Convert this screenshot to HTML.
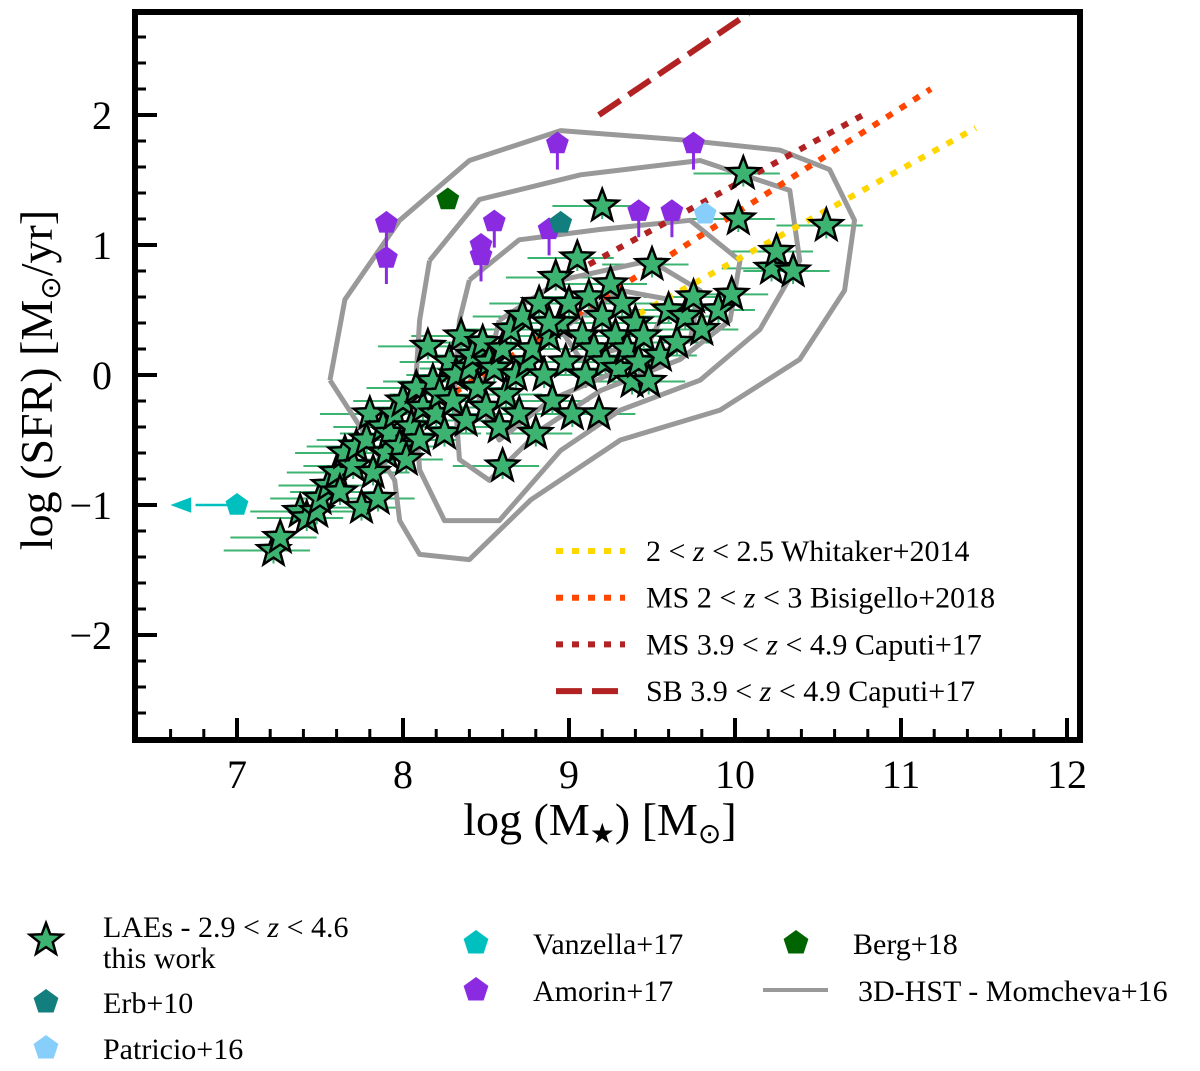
<!DOCTYPE html>
<html><head><meta charset="utf-8"><style>
body{margin:0;background:#fff;}
svg text{font-family:"Liberation Serif",serif;fill:#000;}
</style></head><body>
<svg id="chart" width="1200" height="1066" viewBox="0 0 1200 1066" xmlns="http://www.w3.org/2000/svg">
<g id="plot"></g>
<g id="axes"></g>
<g id="legend"></g>
</svg>
<script>
const xTicks=[7,8,9,10,11,12];
const yTicks=[-2,-1,0,1,2];
const yTickLabels=["\u22122","\u22121","0","1","2"];
// LAE stars
const laeX=[7.22,7.26,7.38,7.42,7.48,7.5,7.55,7.6,7.62,7.65,7.7,7.72,7.75,7.78,7.8,7.82,7.85,7.88,7.9,7.92,7.95,7.98,8.0,8.02,8.05,8.08,8.1,8.12,8.15,8.18,8.2,8.22,8.25,8.28,8.3,8.32,8.35,8.38,8.4,8.42,8.45,8.48,8.5,8.52,8.55,8.58,8.6,8.62,8.65,8.68,8.7,8.72,8.75,8.78,8.8,8.82,8.85,8.88,8.9,8.92,8.95,8.98,9.0,9.02,9.05,9.08,9.1,9.12,9.15,9.18,9.2,9.22,9.25,9.28,9.3,9.32,9.35,9.38,9.4,9.42,9.45,9.5,9.55,9.6,9.65,9.7,9.75,9.8,9.9,9.98,10.02,10.05,10.22,10.25,10.35,10.55,8.6,8.88,9.2,9.48];
const laeY=[-1.35,-1.25,-1.05,-1.1,-1.05,-0.95,-0.85,-0.75,-0.9,-0.6,-0.7,-0.55,-1.02,-0.5,-0.3,-0.75,-0.95,-0.4,-0.6,-0.45,-0.3,-0.55,-0.2,-0.65,-0.4,-0.1,-0.5,-0.25,0.22,-0.05,-0.3,-0.15,-0.45,0.1,-0.2,0.0,0.3,-0.35,0.05,0.15,-0.1,0.25,-0.25,0.1,0.05,-0.4,0.2,-0.15,0.35,0.0,-0.3,0.45,0.1,0.2,-0.45,0.55,0.0,0.3,-0.2,0.75,0.4,0.1,0.55,-0.3,0.9,0.3,0.0,0.6,0.2,-0.3,0.45,0.1,0.7,0.3,0.05,0.55,0.2,-0.05,0.4,0.1,0.3,0.85,0.15,0.5,0.25,0.45,0.6,0.35,0.5,0.62,1.2,1.55,0.82,0.95,0.8,1.15,-0.7,0.4,1.3,-0.05];
// Other samples
const amorinX=[7.9,7.9,8.47,8.47,8.55,8.93,8.88,9.42,9.62,9.75];
const amorinY=[1.17,0.9,1.0,0.92,1.18,1.78,1.12,1.26,1.26,1.78];
const erbX=[8.95],erbY=[1.17];
const bergX=[8.27],bergY=[1.35];
const patricioX=[9.82],patricioY=[1.24];
const vanzellaX=[7.0],vanzellaY=[-1.0];
// Contours (3D-HST)
const contoursX=[
[7.56,7.65,7.98,8.40,8.95,9.67,10.27,10.57,10.72,10.66,10.39,9.91,9.31,8.77,8.40,8.10,7.98,7.95,7.56],
[8.16,8.46,9.07,9.79,10.33,10.39,10.15,9.79,9.31,8.95,8.58,8.25,8.10,8.07,8.10,8.16],
[8.40,8.70,9.19,9.73,10.03,9.97,9.67,9.19,8.83,8.52,8.34,8.31,8.34,8.40],
[8.58,8.95,9.49,9.79,9.73,9.31,8.89,8.58,8.46,8.58],
[8.95,9.31,9.61,9.49,9.07,8.95]];
const contoursY=[
[-0.04,0.58,1.19,1.65,1.88,1.81,1.73,1.58,1.19,0.65,0.12,-0.27,-0.5,-0.96,-1.42,-1.38,-1.12,-0.81,-0.04],
[0.88,1.35,1.54,1.65,1.42,0.88,0.35,-0.04,-0.27,-0.58,-1.12,-1.12,-0.73,-0.19,0.42,0.88],
[0.73,1.04,1.12,1.19,0.88,0.42,0.12,-0.12,-0.42,-0.81,-0.65,-0.12,0.42,0.73],
[0.42,0.73,0.88,0.65,0.27,0.04,-0.19,-0.5,-0.19,0.42],
[0.35,0.65,0.58,0.27,0.12,0.35]];
// Relations
const relX=[[9.25,11.45],[8.23,11.18],[9.12,10.8],[9.18,10.08]];
const relY=[[0.35,1.9],[-0.2,2.2],[0.85,2.02],[2.0,2.78]];
const relNames=["2 < z < 2.5 Whitaker+2014","MS 2 < z < 3 Bisigello+2018","MS 3.9 < z < 4.9 Caputi+17","SB 3.9 < z < 4.9 Caputi+17"];

const X0=135,X1=1080,Y0=12,Y1=740;
const sx=v=>237+(v-7)*166;
const sy=v=>375-v*130;
const NS="http://www.w3.org/2000/svg";
function mk(tag,attrs,parent){const e=document.createElementNS(NS,tag);for(const k in attrs)e.setAttribute(k,attrs[k]);parent.appendChild(e);return e;}
const plot=document.getElementById('plot'),axes=document.getElementById('axes'),legend=document.getElementById('legend');
const cp=mk('clipPath',{id:'clip'},plot);
mk('rect',{x:X0,y:Y0,width:X1-X0,height:Y1-Y0},cp);
const g=mk('g',{'clip-path':'url(#clip)'},plot);

function starPath(cx,cy,r){let d='';for(let i=0;i<10;i++){const rr=i%2?r*0.42:r;const a=-Math.PI/2+i*Math.PI/5;d+=(i?'L':'M')+(cx+rr*Math.cos(a)).toFixed(1)+','+(cy+rr*Math.sin(a)).toFixed(1);}return d+'Z';}
function pentPath(cx,cy,r){let d='';for(let i=0;i<5;i++){const a=-Math.PI/2+i*2*Math.PI/5;d+=(i?'L':'M')+(cx+r*Math.cos(a)).toFixed(1)+','+(cy+r*Math.sin(a)).toFixed(1);}return d+'Z';}

laeX.forEach((x,i)=>{
  const e=mk('path',{d:`M${sx(x-0.3)},${sy(laeY[i])}H${sx(x+0.22)}M${sx(x)},${sy(laeY[i]-0.1)}V${sy(laeY[i]+0.1)}`,stroke:'#3cb371','stroke-width':2,fill:'none'},g);
  
  
});
contoursX.forEach((cx,j)=>{
  const d=cx.map((x,i)=>(i?'L':'M')+sx(x)+','+sy(contoursY[j][i])).join('');
  const p=mk('path',{d,stroke:'#999','stroke-width':5,fill:'none','stroke-linejoin':'round'},g);
  
  
});
const relStyles=[{s:'#ffd700',da:'7 9'},{s:'#ff4500',da:'7 9'},{s:'#b22222',da:'7 9'},{s:'#b22222',da:'26 10'}];
relX.forEach((rx,j)=>{
  const l=mk('line',{x1:sx(rx[0]),y1:sy(relY[j][0]),x2:sx(rx[1]),y2:sy(relY[j][1]),stroke:relStyles[j].s,'stroke-width':6,'stroke-dasharray':relStyles[j].da},g);
  
  
});
laeX.forEach((x,i)=>{
  const s=mk('path',{d:starPath(sx(x),sy(laeY[i]),17),fill:'#3cb371',stroke:'#000','stroke-width':2.5,'stroke-linejoin':'miter'},g);
  
  
});
function pents(xs,ys,col,name,errs){xs.forEach((x,i)=>{
  if(errs){const el=mk('line',{x1:sx(x),x2:sx(x),y1:sy(ys[i]),y2:sy(ys[i]-0.2),stroke:col,'stroke-width':3},g);
  
  }
  const p=mk('path',{d:pentPath(sx(x),sy(ys[i]),12),fill:col},g);
  
  
});}
pents(amorinX,amorinY,'#8a2be2','amorin-point',true);
pents(erbX,erbY,'#137e7e','erb-point',false);
pents(bergX,bergY,'#006400','berg-point',false);
pents(patricioX,patricioY,'#87cefa','patricio-point',false);
vanzellaX.forEach((x,i)=>{
  const a=mk('path',{d:`M${sx(x)},${sy(vanzellaY[i])}H${sx(6.75)}M${sx(6.62)},${sy(vanzellaY[i])}l16,-6v12z`,stroke:'#00bfbf','stroke-width':2.5,fill:'#00bfbf'},g);
  
  
});
pents(vanzellaX,vanzellaY,'#00bfbf','vanzella-point',false);

const fr=mk('rect',{x:X0,y:Y0,width:X1-X0,height:Y1-Y0,fill:'none',stroke:'#000','stroke-width':6},axes);


for(let v=6.6;v<=12.01;v+=0.2){const big=Math.abs(v-Math.round(v))<0.01;mk('line',{x1:sx(v),x2:sx(v),y1:Y1,y2:Y1-(big?22:11),stroke:'#000','stroke-width':big?4:3},axes);}
for(let v=-2.6;v<=2.61;v+=0.2){const big=Math.abs(v-Math.round(v))<0.01;mk('line',{x1:X0,x2:X0+(big?22:11),y1:sy(v),y2:sy(v),stroke:'#000','stroke-width':big?4:3},axes);}
xTicks.forEach(v=>{const t=mk('text',{x:sx(v),y:788,'font-size':40,'text-anchor':'middle'},axes);t.textContent=v;
  });
yTicks.forEach((v,i)=>{const t=mk('text',{x:112,y:sy(v)+14,'font-size':40,'text-anchor':'end'},axes);t.textContent=yTickLabels[i];
  });
const xt=mk('text',{x:600,y:835,'font-size':46,'text-anchor':'middle'},axes);
xt.innerHTML='log (M<tspan font-size="28" dy="8">\u2605</tspan><tspan dy="-8">) [M</tspan><tspan font-size="28" dy="8">\u2299</tspan><tspan dy="-8">]</tspan>';

const yt=mk('text',{x:0,y:0,'font-size':46,'text-anchor':'middle',transform:'translate(52,380) rotate(-90)'},axes);
yt.innerHTML='log (SFR) [M<tspan font-size="28" dy="8">\u2299</tspan><tspan dy="-8">/yr]</tspan>';


relNames.forEach((n,j)=>{const y=551+j*46.7;
  const l=mk('line',{x1:556,x2:625,y1:y,y2:y,stroke:relStyles[j].s,'stroke-width':6,'stroke-dasharray':relStyles[j].da},legend);
  
  const t=mk('text',{x:646,y:y+10,'font-size':30},legend);
  t.innerHTML=n.replace(/ z /,' <tspan font-style="italic">z</tspan> ');
  });

function ltext(x,y,s){const t=mk('text',{x,y,'font-size':30},legend);t.innerHTML=s;}
const ls=mk('path',{d:starPath(46,940,17),fill:'#3cb371',stroke:'#000','stroke-width':2.5},legend);

ltext(103,937,'LAEs - 2.9 &lt; <tspan font-style="italic">z</tspan> &lt; 4.6');ltext(103,968,'this work');
[[46,1002,'#137e7e','Erb+10'],[46,1048,'#87cefa','Patricio+16'],[476,943,'#00bfbf','Vanzella+17'],[476,990,'#8a2be2','Amorin+17'],[796,943,'#006400','Berg+18']].forEach(a=>{
  const p=mk('path',{d:pentPath(a[0],a[1],13),fill:a[2]},legend);
  
  ltext(a[0]+57,a[1]+11,a[3]);});
const hl=mk('line',{x1:763,x2:828,y1:990,y2:990,stroke:'#999','stroke-width':4},legend);

ltext(858,1001,'3D-HST - Momcheva+16');
</script>
</body></html>
